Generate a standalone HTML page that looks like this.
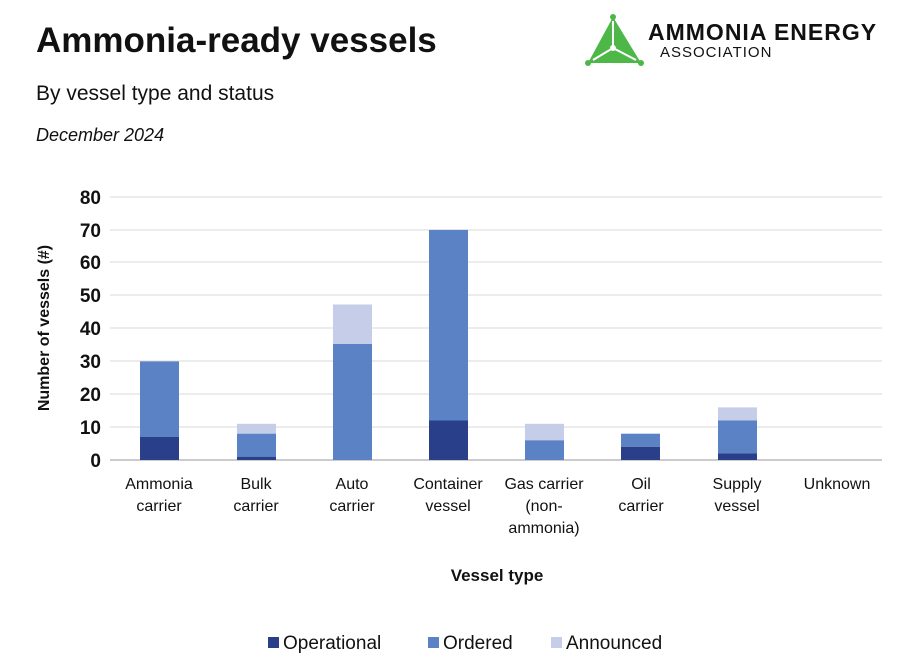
<!DOCTYPE html>
<html><head><meta charset="utf-8"><style>
body{margin:0;background:#fff;width:905px;height:660px;overflow:hidden}
svg{display:block}
text{font-family:"Liberation Sans",sans-serif;fill:#111}
</style></head><body>
<svg width="905" height="660" viewBox="0 0 905 660">
<text x="36" y="52" font-size="35" font-weight="bold" fill="#111">Ammonia-ready vessels</text>
<text x="36" y="100" font-size="21">By vessel type and status</text>
<text x="36" y="141" font-size="18" font-style="italic">December 2024</text>
<!-- logo -->
<polygon points="613,17 588,63 641,63" fill="#4db848"/>
<g stroke="#fff" stroke-width="2" fill="none"><line x1="613" y1="21" x2="613" y2="48"/><line x1="613" y1="48" x2="593" y2="60"/><line x1="613" y1="48" x2="636" y2="60"/></g>
<circle cx="613" cy="48" r="3" fill="#fff"/>
<circle cx="613" cy="17" r="3" fill="#4db848"/><circle cx="588" cy="63" r="3" fill="#4db848"/><circle cx="641" cy="63" r="3" fill="#4db848"/>
<text x="648" y="40" font-size="23" font-weight="bold" fill="#111" letter-spacing="1">AMMONIA ENERGY</text>
<text x="660" y="57" font-size="15" fill="#222" letter-spacing="1">ASSOCIATION</text>
<!-- grid -->
<g stroke="#d9d9d9" stroke-width="1">
<line x1="110" x2="882" y1="197" y2="197"/><line x1="110" x2="882" y1="230" y2="230"/><line x1="110" x2="882" y1="262" y2="262"/><line x1="110" x2="882" y1="295" y2="295"/><line x1="110" x2="882" y1="328" y2="328"/><line x1="110" x2="882" y1="361" y2="361"/><line x1="110" x2="882" y1="394" y2="394"/><line x1="110" x2="882" y1="427" y2="427"/>
</g>
<line x1="110" x2="882" y1="460" y2="460" stroke="#999"/>
<g font-size="19" font-weight="bold" text-anchor="end">
<text x="101" y="204">80</text><text x="101" y="237">70</text><text x="101" y="269">60</text><text x="101" y="302">50</text><text x="101" y="335">40</text><text x="101" y="368">30</text><text x="101" y="401">20</text><text x="101" y="434">10</text><text x="101" y="467">0</text>
</g>
<text transform="translate(49,328) rotate(-90)" font-size="16" font-weight="bold" text-anchor="middle">Number of vessels (#)</text>
<g>
<rect x="140" y="361.4" width="39" height="75.6" fill="#5b82c4"/><rect x="140" y="437" width="39" height="23" fill="#2a3f8a"/>
<rect x="237" y="423.8" width="39" height="9.9" fill="#c5cde9"/><rect x="237" y="433.7" width="39" height="23" fill="#5b82c4"/><rect x="237" y="456.7" width="39" height="3.3" fill="#2a3f8a"/>
<rect x="333" y="304.5" width="39" height="39.5" fill="#c5cde9"/><rect x="333" y="344" width="39" height="116" fill="#5b82c4"/>
<rect x="429" y="229.9" width="39" height="190.6" fill="#5b82c4"/><rect x="429" y="420.5" width="39" height="39.5" fill="#2a3f8a"/>
<rect x="525" y="423.8" width="39" height="16.5" fill="#c5cde9"/><rect x="525" y="440.3" width="39" height="19.7" fill="#5b82c4"/>
<rect x="621" y="433.7" width="39" height="13.1" fill="#5b82c4"/><rect x="621" y="446.8" width="39" height="13.2" fill="#2a3f8a"/>
<rect x="718" y="407.4" width="39" height="13.1" fill="#c5cde9"/><rect x="718" y="420.5" width="39" height="32.9" fill="#5b82c4"/><rect x="718" y="453.4" width="39" height="6.6" fill="#2a3f8a"/>
</g>
<g font-size="16" text-anchor="middle">
<text x="159" y="489">Ammonia</text><text x="159" y="511">carrier</text>
<text x="256" y="489">Bulk</text><text x="256" y="511">carrier</text>
<text x="352" y="489">Auto</text><text x="352" y="511">carrier</text>
<text x="448" y="489">Container</text><text x="448" y="511">vessel</text>
<text x="544" y="489">Gas carrier</text><text x="544" y="511">(non-</text><text x="544" y="533">ammonia)</text>
<text x="641" y="489">Oil</text><text x="641" y="511">carrier</text>
<text x="737" y="489">Supply</text><text x="737" y="511">vessel</text>
<text x="837" y="489">Unknown</text>
</g>
<text x="497" y="581" font-size="17" font-weight="bold" text-anchor="middle">Vessel type</text>
<g font-size="19">
<rect x="268" y="637" width="11" height="11" fill="#2a3f8a"/><text x="283" y="649">Operational</text>
<rect x="428" y="637" width="11" height="11" fill="#5b82c4"/><text x="443" y="649">Ordered</text>
<rect x="551" y="637" width="11" height="11" fill="#c5cde9"/><text x="566" y="649">Announced</text>
</g>
</svg>
</body></html>
